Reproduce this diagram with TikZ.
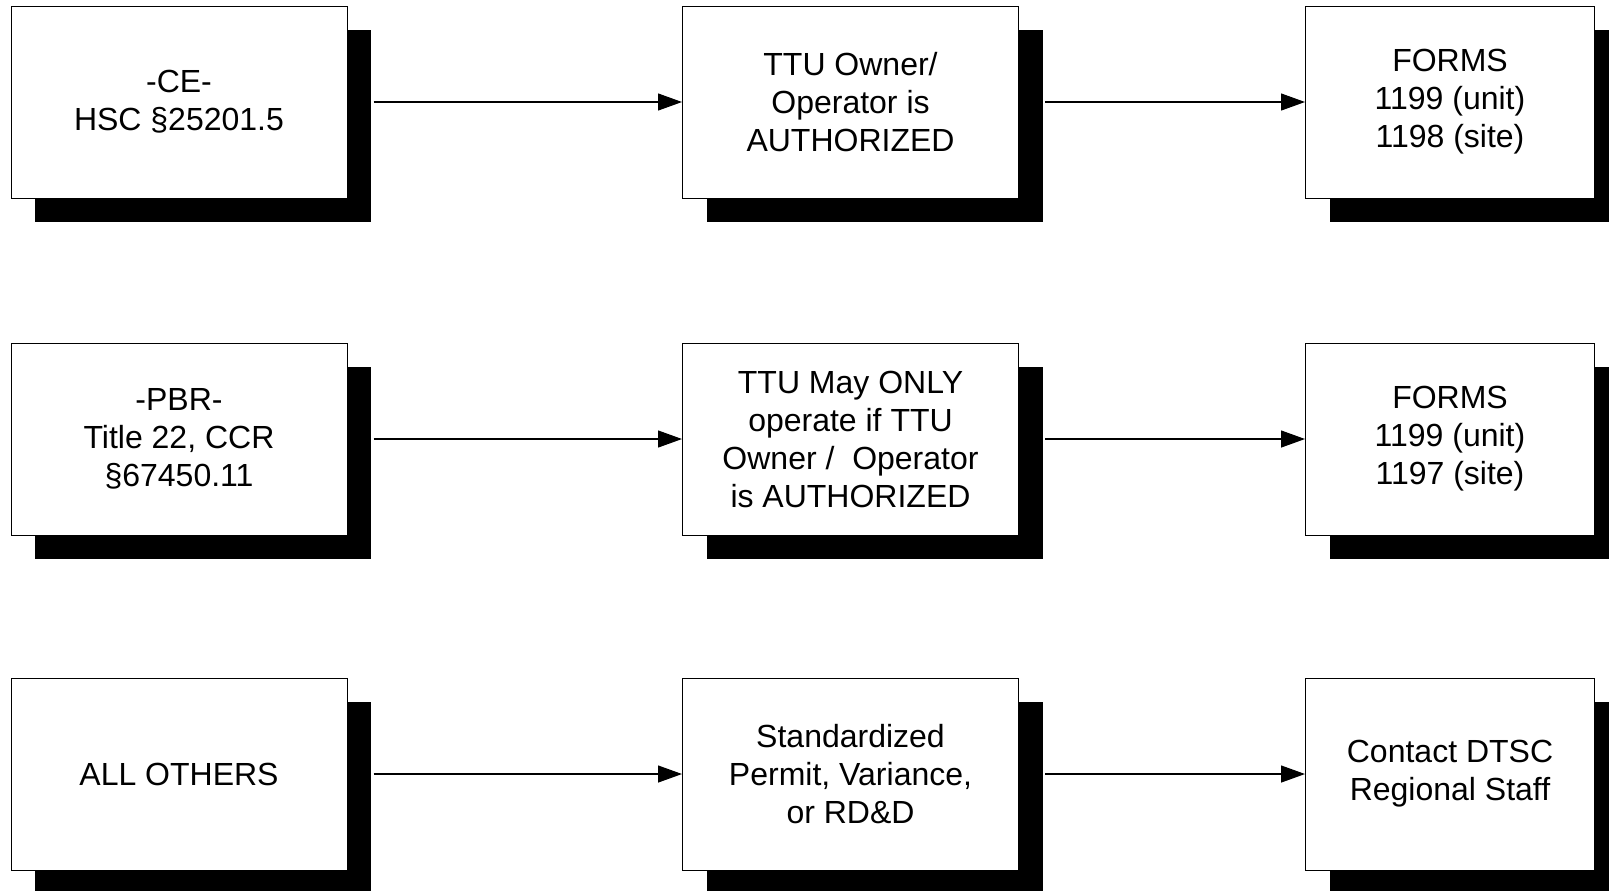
\documentclass[tikz,border=0pt]{standalone}
\usepackage{fontspec}
\setmainfont{Liberation Sans}
\usetikzlibrary{arrows.meta,shadows}

\begin{document}
\begin{tikzpicture}[x=0.5pt, y=-0.5pt, >={Triangle[length=12pt,width=8.5pt]},
  font=\fontsize{16pt}{19pt}\selectfont,
  box/.style={draw, line width=0.5pt, fill=white, align=center,
    minimum width=168pt, minimum height=96pt, inner sep=2pt,
    drop shadow={shadow xshift=12pt, shadow yshift=-12pt, fill=black, opacity=1}},
  formbox/.style={box, minimum width=144.5pt},
  link/.style={->, line width=0.6pt, shorten <=13pt}]
  \clip (0,0) rectangle (1609,890);
  \fill[white] (0,0) rectangle (1609,890);
  % left column
  \node[box]     (ce)      at (179,102)    {-CE-\\HSC §25201.5};
  \node[box]     (pbr)     at (179,439)    {-PBR-\\Title 22, CCR\\§67450.11};
  \node[box]     (others)  at (179,774)    {ALL OTHERS};
  % middle column
  \node[box]     (auth)    at (850.5,102)  {TTU Owner/\\Operator is\\AUTHORIZED};
  \node[box]     (pbrop)   at (850.5,439)  {TTU May ONLY\\operate if TTU\\Owner / \ Operator\\is AUTHORIZED};
  \node[box]     (permit)  at (850.5,774)  {Standardized\\Permit, Variance,\\or RD\&D};
  % right column
  \node[formbox] (forms1)  at (1450,102)   {FORMS\\1199 (unit)\\1198 (site)};
  \node[formbox] (forms2)  at (1450,439)   {FORMS\\1199 (unit)\\1197 (site)};
  \node[formbox] (contact) at (1450,774)   {Contact DTSC\\Regional Staff};
  \draw[link] (ce) -- (auth);
  \draw[link] (pbr) -- (pbrop);
  \draw[link] (others) -- (permit);
  \draw[link] (auth) -- (forms1);
  \draw[link] (pbrop) -- (forms2);
  \draw[link] (permit) -- (contact);
\end{tikzpicture}
\end{document}
